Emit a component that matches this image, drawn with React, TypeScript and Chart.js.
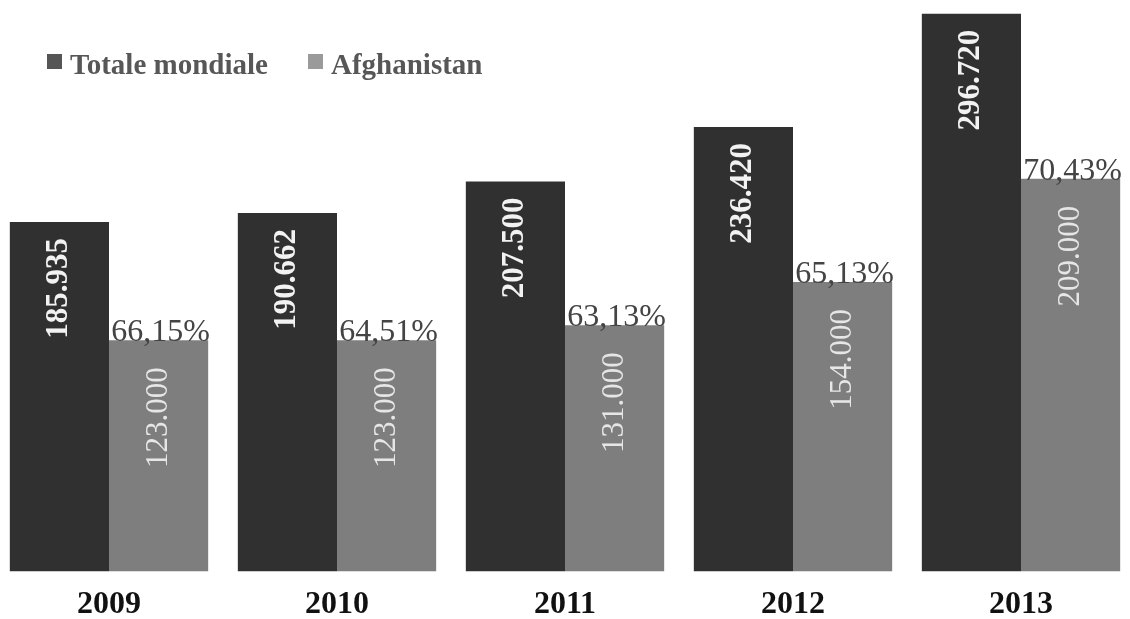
import React, { useEffect, useRef } from "react";
import { Chart, registerables } from "chart.js";

Chart.register(...registerables);

const categories = ["2009", "2010", "2011", "2012", "2013"];
const totaleMondiale = [185.935, 190.662, 207.5, 236.42, 296.72];
const afghanistan = [123.0, 123.0, 131.0, 154.0, 209.0];
const totaleLabels = ["185.935", "190.662", "207.500", "236.420", "296.720"];
const afghanLabels = ["123.000", "123.000", "131.000", "154.000", "209.000"];
const percentLabels = ["66,15%", "64,51%", "63,13%", "65,13%", "70,43%"];
const seriesNames = ["Totale mondiale", "Afghanistan"];

const SERIF = '"Liberation Serif", "Times New Roman", Times, serif';

const labelPlugin = {
  id: "barLabels",
  afterDatasetsDraw(chart: any) {
    const ctx = chart.ctx;
    const m0 = chart.getDatasetMeta(0);
    const m1 = chart.getDatasetMeta(1);
    ctx.save();
    m0.data.forEach((bar: any, i: number) => {
      ctx.save();
      ctx.translate(bar.x, bar.y + 16);
      ctx.rotate(-Math.PI / 2);
      ctx.font = `bold 31px ${SERIF}`;
      ctx.fillStyle = "#f2f2f2";
      ctx.textAlign = "right";
      ctx.textBaseline = "middle";
      ctx.fillText(totaleLabels[i], 0, 0);
      ctx.restore();
    });
    m1.data.forEach((bar: any, i: number) => {
      ctx.save();
      ctx.translate(bar.x, bar.y + 27);
      ctx.rotate(-Math.PI / 2);
      ctx.font = `31px ${SERIF}`;
      ctx.fillStyle = "#e6e6e6";
      ctx.textAlign = "right";
      ctx.textBaseline = "middle";
      ctx.fillText(afghanLabels[i], 0, 0);
      ctx.restore();

      ctx.font = `32px ${SERIF}`;
      ctx.fillStyle = "#444444";
      ctx.textAlign = "center";
      ctx.textBaseline = "alphabetic";
      ctx.fillText(percentLabels[i], bar.x + 2, bar.y + 1);
    });
    ctx.restore();
  },
  afterDraw(chart: any) {
    const ctx = chart.ctx;
    ctx.save();
    const items = [
      { x: 52, color: "#555555", text: seriesNames[0] },
      { x: 313, color: "#9a9a9a", text: seriesNames[1] },
    ];
    ctx.font = `bold 29px ${SERIF}`;
    ctx.textBaseline = "alphabetic";
    ctx.textAlign = "left";
    items.forEach((it) => {
      ctx.fillStyle = it.color;
      ctx.fillRect(it.x, 54, 15, 15);
      ctx.fillStyle = "#575757";
      ctx.fillText(it.text, it.x + 23, 74);
    });
    ctx.restore();
  },
};

export default function App() {
  const ref = useRef<HTMLCanvasElement | null>(null);

  useEffect(() => {
    if (!ref.current) return;
    const chart = new Chart(ref.current, {
      type: "bar",
      data: {
        labels: categories,
        datasets: [
          {
            label: seriesNames[0],
            data: totaleMondiale,
            backgroundColor: "#303030",
            borderWidth: 0,
            categoryPercentage: 0.87,
            barPercentage: 1,
          },
          {
            label: seriesNames[1],
            data: afghanistan,
            backgroundColor: "#7e7e7e",
            borderWidth: 0,
            categoryPercentage: 0.87,
            barPercentage: 1,
          },
        ],
      },
      options: {
        responsive: false,
        animation: false,
        devicePixelRatio: 1,
        layout: { padding: 0 },
        plugins: {
          legend: { display: false },
          tooltip: { enabled: false },
        },
        scales: {
          x: {
            offset: true,
            grid: { display: false, drawTicks: false },
            border: { display: false },
            ticks: {
              padding: 14,
              color: "#111111",
              font: { family: SERIF, size: 32, weight: "bold" },
            },
          },
          y: {
            display: false,
            min: 0,
            max: 304,
          },
        },
      },
      plugins: [labelPlugin],
    });
    return () => chart.destroy();
  }, []);

  return (
    <div
      style={{
        position: "fixed",
        left: 0,
        top: 0,
        width: 1130,
        height: 619,
        overflow: "hidden",
        background: "#ffffff",
      }}
    >
      <canvas
        ref={ref}
        width={1140}
        height={638}
        style={{ position: "absolute", left: -5, top: 0, width: 1140, height: 638 }}
      />
    </div>
  );
}
